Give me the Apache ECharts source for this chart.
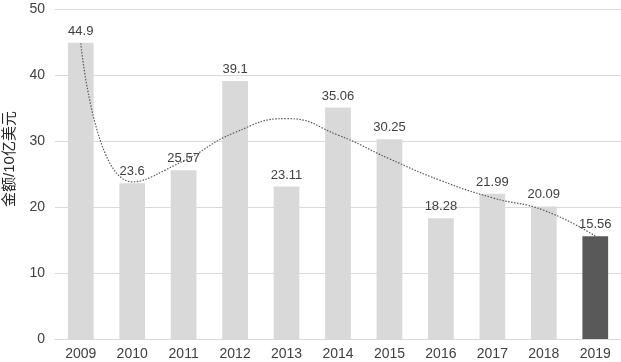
<!DOCTYPE html>
<html><head><meta charset="utf-8">
<script src="https://cdn.jsdelivr.net/npm/echarts@6/dist/echarts.min.js"></script>
<style>html,body{margin:0;padding:0;background:#fff}#c{width:621px;height:362px}</style>
</head><body><div id="c"></div>
<script>
const categories = ['2009','2010','2011','2012','2013','2014','2015','2016','2017','2018','2019'];
const values = [44.9, 23.6, 25.57, 39.1, 23.11, 35.06, 30.25, 18.28, 21.99, 20.09, 15.56];
const trendValues = [44.8, 23.8, 27.0, 31.3, 33.4, 30.9, 27.3, 24.0, 21.4, 19.5, 15.6];
const yTicks = [0, 10, 20, 30, 40, 50];
const yAxisName = '金额/10亿美元';

const chart = echarts.init(document.getElementById('c'));
const font = 'Liberation Sans, Arial, sans-serif';
chart.setOption({
  animation: false,
  grid: {left: 55, right: 0, top: 9, bottom: 23, containLabel: false, outerBoundsMode: 'none'},
  graphic: [{
    type: 'text', x: 10, y: 159, rotation: Math.PI / 2,
    style: {text: yAxisName, fill: '#262626', font: '15px "Liberation Sans", "Noto Sans CJK SC", sans-serif',
      textAlign: 'center', textVerticalAlign: 'middle'}
  }],
  xAxis: {
    type: 'category', data: categories,
    axisLine: {lineStyle: {color: '#d9d9d9'}},
    axisTick: {show: false},
    axisLabel: {color: '#404040', fontSize: 14, fontFamily: font, margin: 8}
  },
  yAxis: {
    type: 'value', min: yTicks[0], max: yTicks[yTicks.length - 1], interval: 10,
    axisLine: {show: false}, axisTick: {show: false},
    axisLabel: {color: '#404040', fontSize: 14, fontFamily: font, margin: 10},
    splitLine: {lineStyle: {color: '#d9d9d9'}}
  },
  series: [
    {
      type: 'bar', data: values.map((v, i) => ({
        value: v,
        itemStyle: {color: i === values.length - 1 ? '#595959' : '#d9d9d9'}
      })),
      barWidth: '50%',
      label: {show: true, position: 'top', distance: 5, color: '#404040', fontSize: 13, fontFamily: font}
    },
    {
      type: 'line', data: trendValues, smooth: 0.5, symbol: 'none',
      lineStyle: {color: '#595959', width: 1.2, type: [1.5, 1.5]},
      z: 3
    }
  ]
});
</script></body></html>
